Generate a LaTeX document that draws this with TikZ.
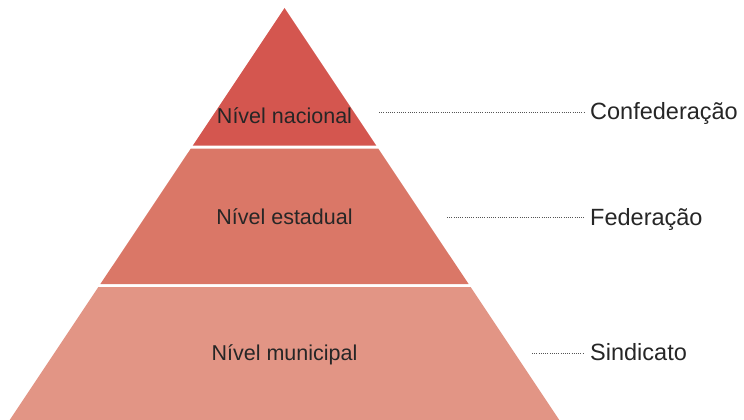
\documentclass[tikz,border=0pt]{standalone}
\usepackage{fontspec}
\setmainfont{Liberation Sans}
\definecolor{cTop}{HTML}{D4564F}
\definecolor{cMid}{HTML}{DA7767}
\definecolor{cBot}{HTML}{E29585}
\definecolor{txt}{HTML}{262626}
\definecolor{dotc}{HTML}{555555}
\tikzset{
  band/.style={draw=none},
  lvl/.style={anchor=base, inner sep=0pt, text=txt, font=\fontsize{21.5}{24}\selectfont},
  org/.style={anchor=base west, inner sep=0pt, text=txt, font=\fontsize{23.5}{26}\selectfont},
  leader/.style={draw=dotc, line width=0.7pt, dash pattern=on 0.8pt off 1.4pt}
}
\begin{document}
\begin{tikzpicture}[x=1pt,y=-1pt]
\useasboundingbox (0,0) rectangle (744,420);
% bands
\fill[band, cTop] (284.5,8) -- (376.3,145.7) -- (192.7,145.7) -- cycle;
\fill[band, cMid] (190.7,148.7) -- (378.3,148.7) -- (468.6,284) -- (100.4,284) -- cycle;
\fill[band, cBot] (98.4,287) -- (470.6,287) -- (559.3,420) -- (9.7,420) -- cycle;
% level labels
\node[lvl] (nac) at (284.5,123.3) {Nível nacional};
\node[lvl] (est) at (284.5,224.3) {Nível estadual};
\node[lvl] (mun) at (284.5,360.7) {Nível municipal};
% organisation labels
\node[org] (conf) at (590,119.3) {Confederação};
\node[org] (fed) at (590,225) {Federação};
\node[org] (sin) at (590,360.7) {Sindicato};
% leader coordinates
\coordinate (a1) at (379,112.5);
\coordinate (b1) at (584,112.5);
\coordinate (a2) at (447,217.5);
\coordinate (b2) at (584,217.5);
\coordinate (a3) at (532,353.5);
\coordinate (b3) at (584,353.5);
\draw[leader] (a1) -- (b1);
\draw[leader] (a2) -- (b2);
\draw[leader] (a3) -- (b3);
\end{tikzpicture}
\end{document}
